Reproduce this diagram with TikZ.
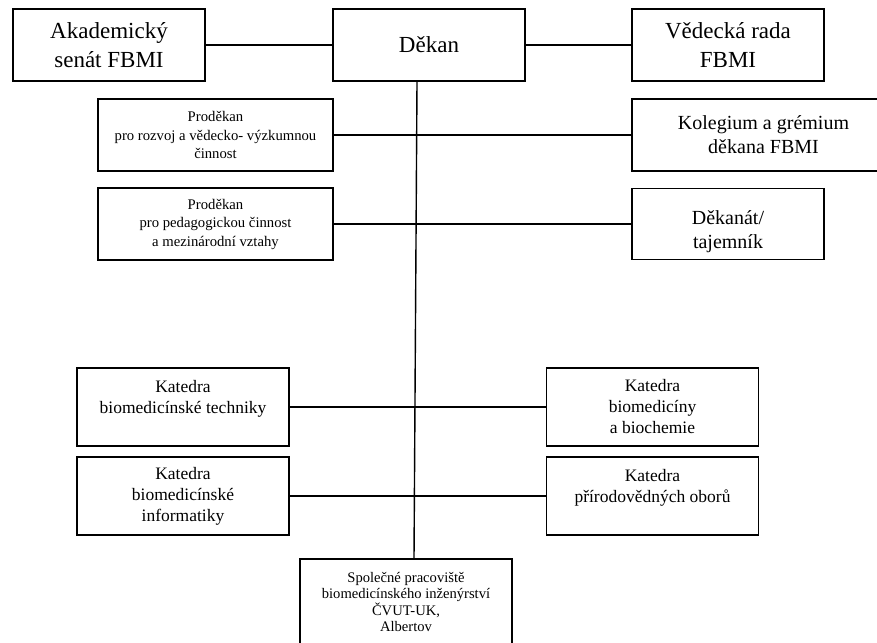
\documentclass[tikz,border=0pt]{standalone}
\usepackage{fontspec}
\setmainfont{Liberation Serif}
\usetikzlibrary{positioning}
\tikzstyle{box}=[draw,rectangle,line width=1.8pt,inner sep=2pt,align=center]
\tikzstyle{bigbox}=[box,minimum width=192pt,minimum height=72pt,
font=\fontsize{23}{29}\selectfont]
\tikzstyle{prodbox}=[box,minimum width=235pt,minimum height=72pt,
font=\fontsize{14.7}{18.5}\selectfont]
\tikzstyle{midbox}=[box,minimum width=192pt,minimum height=72pt,
font=\fontsize{20}{24}\selectfont]
\tikzstyle{katbox}=[box,minimum width=212pt,minimum height=78pt,
font=\fontsize{17.5}{21}\selectfont]
\tikzstyle{spolbox}=[box,minimum width=212pt,minimum height=86pt,
font=\fontsize{14.6}{16.3}\selectfont]

\begin{document}
\begin{tikzpicture}[x=1pt, y=-1pt, node distance=89pt, on grid]
  \tikzstyle{link}=[line width=1.4pt]
  \useasboundingbox (0,0) rectangle (877,642);
  \clip (0,0) rectangle (877,642);

  \node[bigbox] at (429,45) (dekan) {Děkan};
  \node[bigbox, left=320pt of dekan] (senat) {Akademický\\senát FBMI};
  \node[bigbox, right=299pt of dekan] (vedecka) {Vědecká rada\\FBMI};
  \node[prodbox] at (215.5,135) (prodA) {Proděkan\\pro rozvoj a vědecko- výzkumnou\\činnost};
  \node[prodbox, below=of prodA] (prodB) {Proděkan\\pro pedagogickou činnost\\a mezinárodní vztahy};
  \node[midbox, minimum width=263pt] at (763.5,135) (kolegium) {Kolegium a grémium\\děkana FBMI};
  \node[midbox, minimum height=71pt] at (728,224) (dekanat)
    {\raisebox{-8pt}[\height][\depth]{\begin{tabular}{@{}c@{}}Děkanát/\\tajemník\end{tabular}}};
  \node[katbox] at (183,407) (katBT) {Katedra\\biomedicínské techniky\\\mbox{}};
  \node[katbox, below=of katBT] (katBI) {Katedra\\biomedicínské\\informatiky};
  \node[katbox] at (652.5,407) (katBB) {Katedra\\biomedicíny\\a biochemie};
  \node[katbox, below=of katBB] (katPO) {Katedra\\přírodovědných oborů\\\mbox{}};
  \node[spolbox] at (406,602) (spol) {Společné pracoviště\\biomedicínského inženýrství\\ČVUT-UK,\\Albertov};

  \draw[link] (senat) -- (dekan) -- (vedecka);
  \draw[link] ([xshift=-12pt]dekan.south) -- ([xshift=8pt]spol.north);
  \draw[link] (prodA) -- (kolegium);
  \draw[link] (prodB) -- (dekanat);
  \draw[link] (katBT) -- (katBB);
  \draw[link] (katBI) -- (katPO);
\end{tikzpicture}
\end{document}
